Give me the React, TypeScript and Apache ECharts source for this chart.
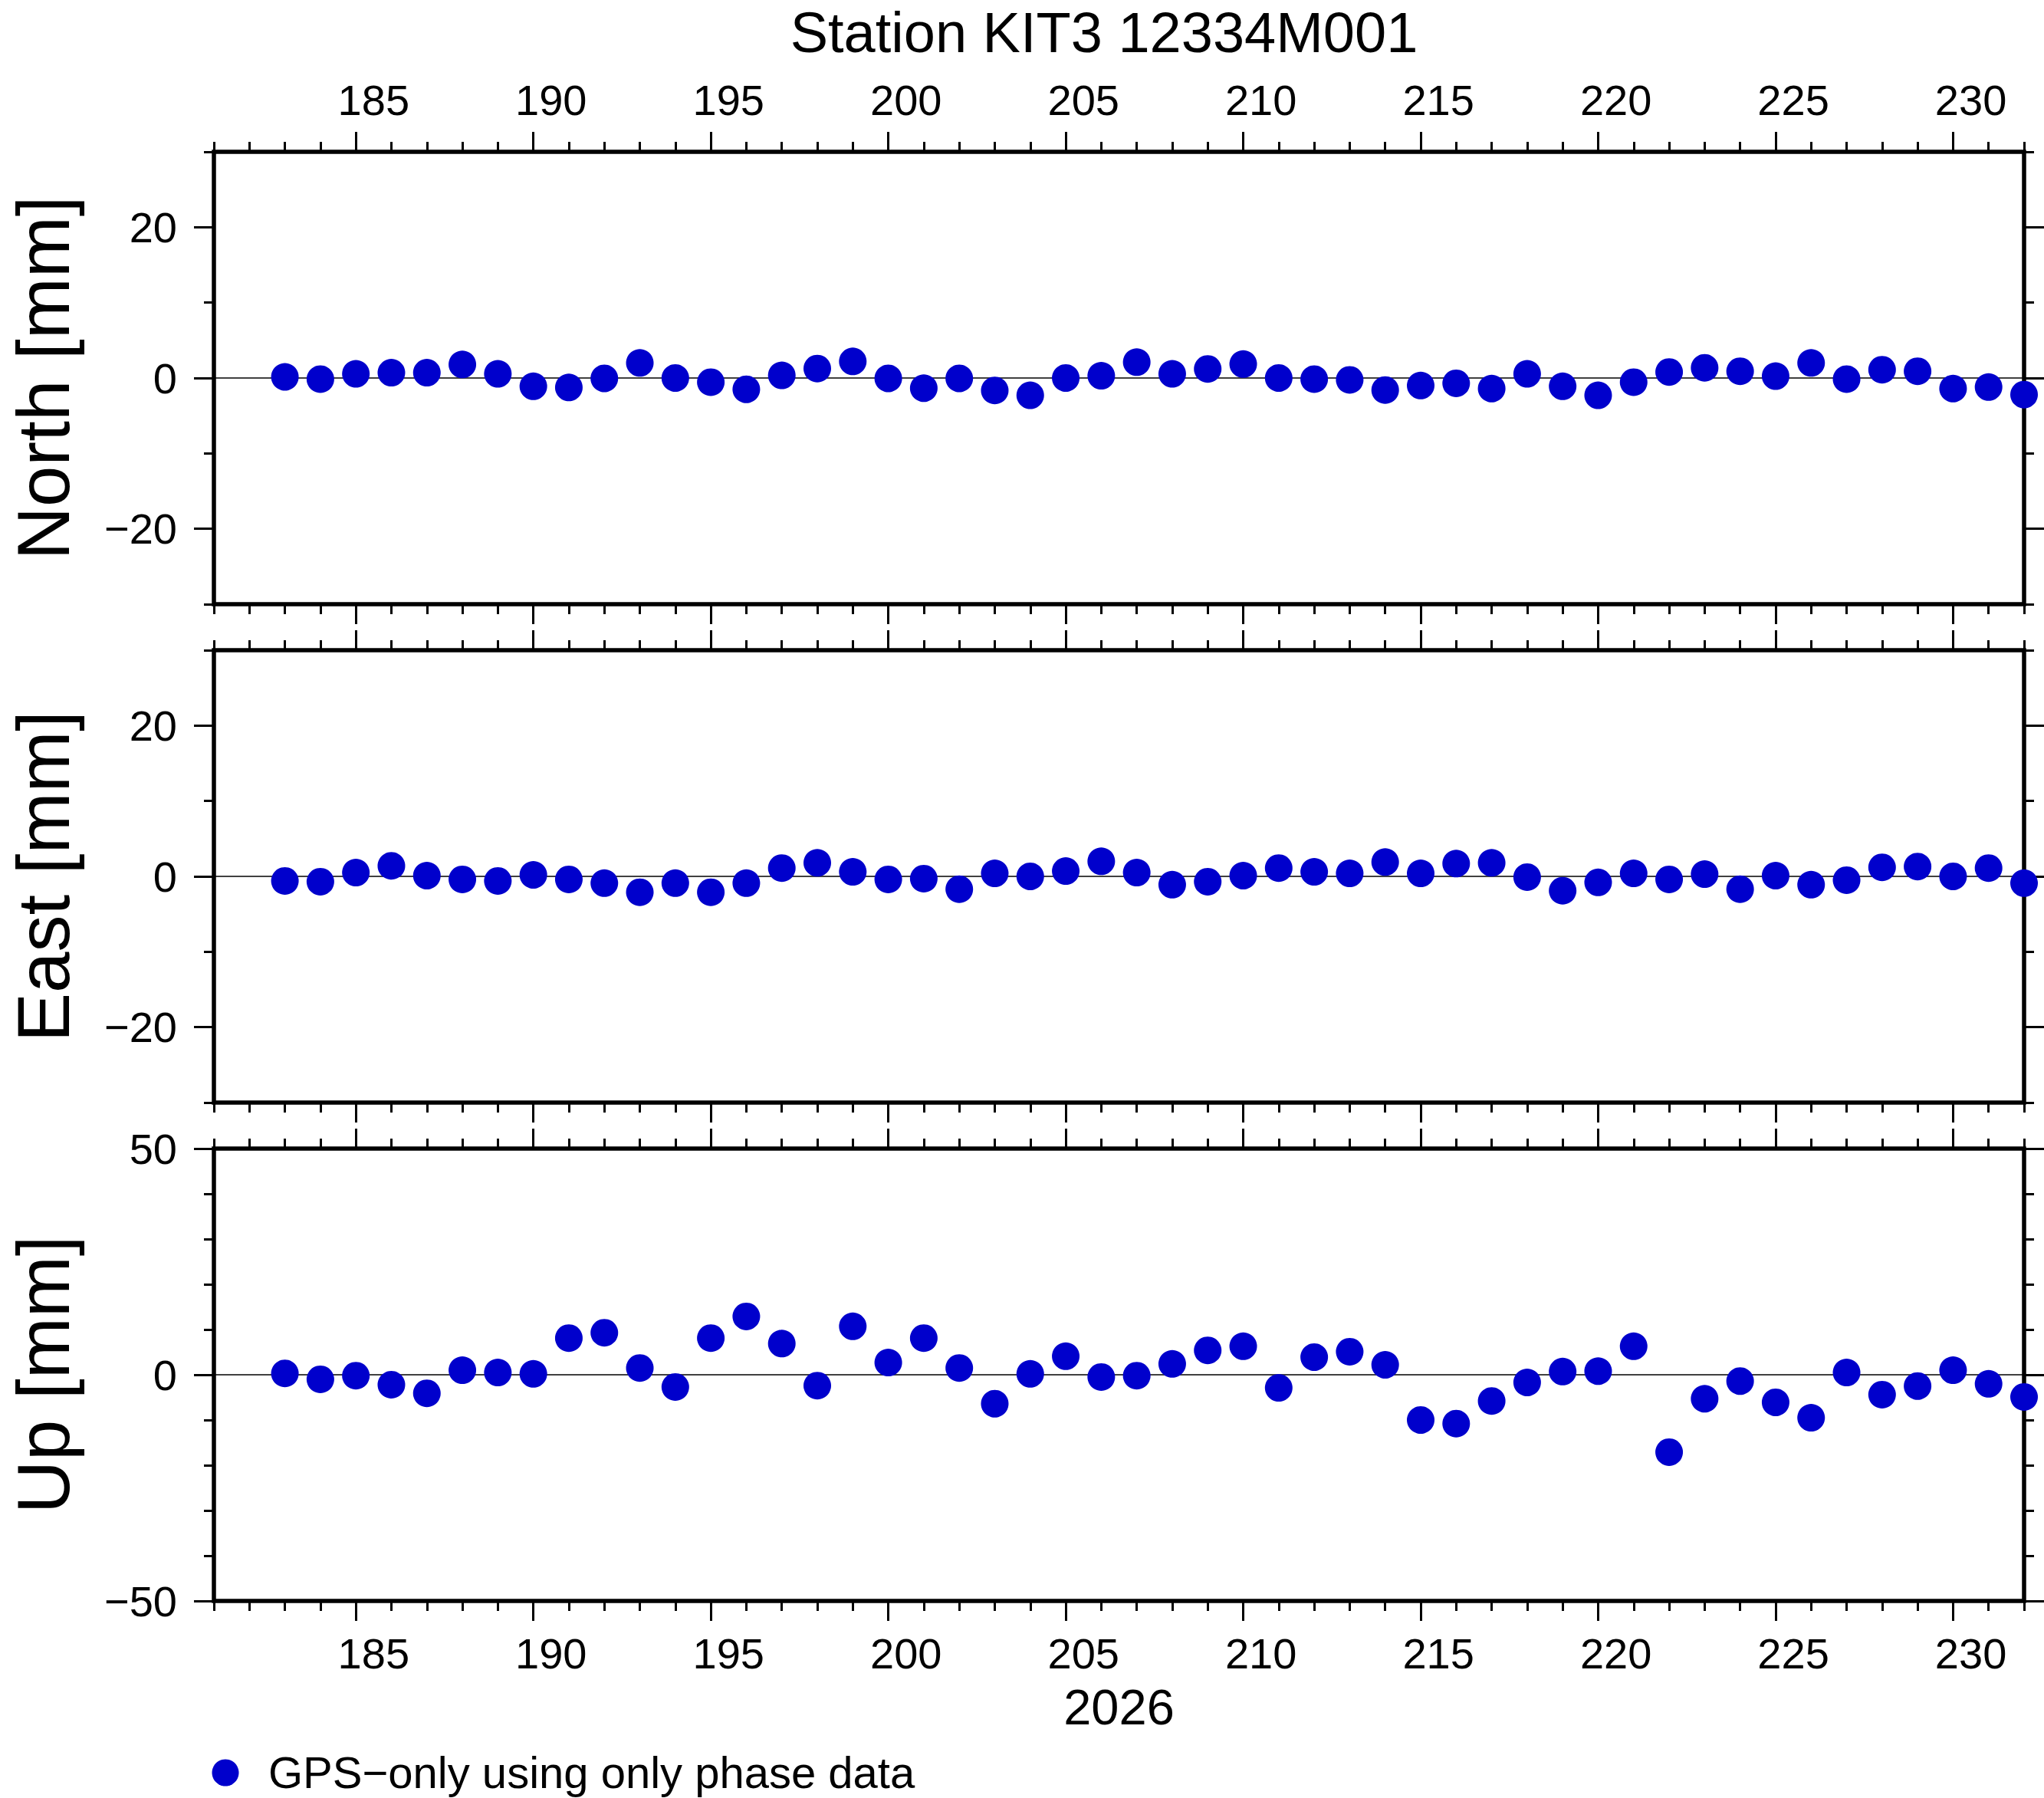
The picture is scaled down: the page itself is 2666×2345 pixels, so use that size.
import { useEffect, useRef } from "react";
import * as echarts from "echarts";

const days = [
  183, 184, 185, 186, 187, 188, 189, 190, 191, 192, 193, 194, 195, 196, 197, 198, 199,
  200, 201, 202, 203, 204, 205, 206, 207, 208, 209, 210, 211, 212, 213, 214, 215, 216,
  217, 218, 219, 220, 221, 222, 223, 224, 225, 226, 227, 228, 229, 230, 231, 232,
];

const north = [
  0.15, -0.15, 0.55, 0.7, 0.7, 1.8, 0.55, -1.1, -1.25, -0.05, 2.0, 0.0, -0.55, -1.5, 0.35,
  1.25, 2.2, -0.05, -1.35, -0.05, -1.65, -2.3, 0.0, 0.3, 2.1, 0.55, 1.2, 1.85, 0.0, -0.15,
  -0.25, -1.6, -1.0, -0.7, -1.4, 0.55, -1.1, -2.3, -0.55, 0.8, 1.35, 0.9, 0.25, 2.0, -0.15,
  1.1, 0.9, -1.4, -1.2, -2.2,
];

const east = [
  -0.6, -0.7, 0.5, 1.4, 0.1, -0.4, -0.6, 0.2, -0.4, -0.9, -2.1, -0.9, -2.1, -0.9, 1.1, 1.8,
  0.6, -0.4, -0.3, -1.7, 0.4, 0.0, 0.7, 2.0, 0.5, -1.1, -0.7, 0.1, 1.1, 0.6, 0.4, 1.9, 0.4,
  1.7, 1.8, -0.1, -1.9, -0.8, 0.4, -0.4, 0.3, -1.7, 0.1, -1.1, -0.5, 1.2, 1.3, 0.0, 1.1, -0.9,
];

const up = [
  0.3, -1.0, -0.2, -2.2, -4.1, 1.0, 0.5, 0.2, 8.1, 9.3, 1.5, -2.7, 8.1, 12.9, 6.9, -2.4, 10.7,
  2.7, 8.1, 1.5, -6.4, 0.2, 4.1, -0.5, -0.2, 2.4, 5.4, 6.3, -2.9, 3.9, 5.1, 2.2, -10.0, -10.8,
  -5.8, -1.7, 0.7, 0.8, 6.3, -17.1, -5.3, -1.4, -6.1, -9.5, 0.5, -4.4, -2.5, 1.0, -2.0, -4.9,
];

const xMinorTicks = [
  181, 182, 183, 184, 185, 186, 187, 188, 189, 190, 191, 192, 193, 194, 195, 196, 197, 198,
  199, 200, 201, 202, 203, 204, 205, 206, 207, 208, 209, 210, 211, 212, 213, 214, 215, 216,
  217, 218, 219, 220, 221, 222, 223, 224, 225, 226, 227, 228, 229, 230, 231, 232,
];
const xMajorTicks = [185, 190, 195, 200, 205, 210, 215, 220, 225, 230];

const neMinorTicks = [-30, -20, -10, 0, 10, 20, 30];
const neLabels = [-20, 0, 20];
const upMinorTicks = [-50, -40, -30, -20, -10, 0, 10, 20, 30, 40, 50];
const upLabels = [-50, 0, 50];

const panelNames = ["North [mm]", "East [mm]", "Up [mm]"];
const panelValues = [north, east, up];
const panelRanges = [
  [-30, 30],
  [-30, 30],
  [-50, 50],
];
const panelMinor = [neMinorTicks, neMinorTicks, upMinorTicks];
const panelLabels = [neLabels, neLabels, upLabels];

const title = "Station KIT3 12334M001";
const yearLabel = "2026";
const legendLabel = "GPS\u2212only using only phase data";

const FONT = "Liberation Sans";
const BLUE = "#0000cc";
const LEFT = 279;
const RIGHT = 2640;
const PANEL_H = 590;
const TOPS = [198, 848, 1498];

const fmtMinus = (v: number) => (v < 0 ? "\u2212" + Math.abs(v) : String(v));

function xAxis(grid: number, position: string, ticks: number[], len: number, labels: boolean) {
  return {
    type: "value",
    gridIndex: grid,
    position,
    min: 181,
    max: 232,
    axisLine: { show: false, onZero: false },
    splitLine: { show: false },
    axisTick: {
      show: true,
      customValues: ticks,
      length: len,
      lineStyle: { color: "#000", width: 3 },
    },
    axisLabel: labels
      ? {
          show: true,
          customValues: xMajorTicks.map((v) => v + 0.5),
          formatter: (v: number) => String(Math.floor(v)),
          fontSize: 56,
          fontFamily: FONT,
          color: "#000",
          margin: 68,
          verticalAlign: "middle",
        }
      : { show: false },
  };
}

function yAxis(p: number, position: string, ticks: number[], len: number, labels: boolean) {
  return {
    type: "value",
    gridIndex: p,
    position,
    min: panelRanges[p][0],
    max: panelRanges[p][1],
    axisLine: { show: false, onZero: false },
    splitLine: { show: false },
    axisTick: {
      show: true,
      customValues: ticks,
      length: len,
      lineStyle: { color: "#000", width: 3 },
    },
    axisLabel: labels
      ? {
          show: true,
          customValues: panelLabels[p],
          formatter: (v: number) => fmtMinus(v),
          fontSize: 56,
          fontFamily: FONT,
          color: "#000",
          margin: 48,
        }
      : { show: false },
  };
}

export default function App() {
  const ref = useRef<HTMLDivElement>(null);

  useEffect(() => {
    const el = ref.current;
    if (!el) return;
    const chart = echarts.init(el, undefined, { renderer: "svg" });

    const grids: any[] = [];
    const xAxes: any[] = [];
    const yAxes: any[] = [];
    const series: any[] = [];
    const graphics: any[] = [];

    for (let p = 0; p < 3; p++) {
      grids.push({
        left: LEFT,
        top: TOPS[p],
        width: RIGHT - LEFT,
        height: PANEL_H,
        show: true,
        borderColor: "#000",
        borderWidth: 5.5,
        backgroundColor: "transparent",
      });
      const xBase = xAxes.length;
      xAxes.push(xAxis(p, "bottom", xMajorTicks, 26, p === 2));
      xAxes.push(xAxis(p, "bottom", xMinorTicks, 13, false));
      xAxes.push(xAxis(p, "top", xMajorTicks, 26, p === 0));
      xAxes.push(xAxis(p, "top", xMinorTicks, 13, false));
      const yBase = yAxes.length;
      yAxes.push(yAxis(p, "left", panelLabels[p], 26, true));
      yAxes.push(yAxis(p, "left", panelMinor[p], 13, false));
      yAxes.push(yAxis(p, "right", panelLabels[p], 26, false));
      yAxes.push(yAxis(p, "right", panelMinor[p], 13, false));

      series.push({
        type: "scatter",
        xAxisIndex: xBase,
        yAxisIndex: yBase,
        z: 10,
        clip: false,
        symbol: "circle",
        symbolSize: 36,
        itemStyle: { color: BLUE, opacity: 1 },
        data: days.map((d, i) => [d, panelValues[p][i]]),
        markLine: {
          silent: true,
          symbol: ["none", "none"],
          label: { show: false },
          lineStyle: { color: "#000", width: 1.5, type: "solid", opacity: 1 },
          data: [{ yAxis: 0 }],
        },
      });

      graphics.push({
        type: "text",
        x: 56,
        y: TOPS[p] + PANEL_H / 2,
        rotation: Math.PI / 2,
        style: {
          text: panelNames[p],
          font: `96px "${FONT}"`,
          fill: "#000",
          align: "center",
          verticalAlign: "middle",
        },
      });
    }

    graphics.push(
      {
        type: "text",
        x: 1440,
        y: 42,
        style: {
          text: title,
          font: `74px "${FONT}"`,
          fill: "#000",
          align: "center",
          verticalAlign: "middle",
        },
      },
      {
        type: "text",
        x: (LEFT + RIGHT) / 2,
        y: 2226,
        style: {
          text: yearLabel,
          font: `65px "${FONT}"`,
          fill: "#000",
          align: "center",
          verticalAlign: "middle",
        },
      },
      {
        type: "circle",
        shape: { cx: 294, cy: 2312, r: 17.5 },
        style: { fill: BLUE },
      },
      {
        type: "text",
        x: 350,
        y: 2311,
        style: {
          text: legendLabel,
          font: `58px "${FONT}"`,
          fill: "#000",
          align: "left",
          verticalAlign: "middle",
        },
      }
    );

    chart.setOption({
      animation: false,
      backgroundColor: "#fff",
      grid: grids,
      xAxis: xAxes,
      yAxis: yAxes,
      series,
      graphic: graphics,
    });

    return () => {
      chart.dispose();
    };
  }, []);

  return (
    <div
      ref={ref}
      style={{ position: "fixed", left: 0, top: 0, width: 2666, height: 2345 }}
    />
  );
}
